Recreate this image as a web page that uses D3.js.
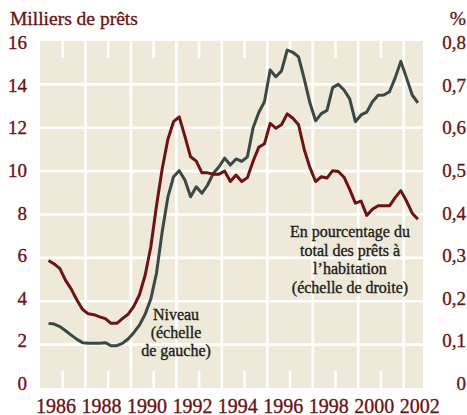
<!DOCTYPE html>
<html><head><meta charset="utf-8">
<script src="https://cdn.jsdelivr.net/npm/d3@7"></script>
<style>
body{margin:0;background:#fff}
svg{display:block}
</style>
</head><body>
<svg id="c" width="467" height="415"></svg>
<script>
// Quarterly periods: 1986 T2 .. 2002 T3 (index-based dates)
const firstYear = 1986, firstQuarter = 2, nPeriods = 66;
const periods = d3.range(nPeriods).map(i => {
  const q = firstQuarter - 1 + i;
  return {year: firstYear + Math.floor(q / 4), quarter: (q % 4) + 1};
});

// Niveau (milliers de prêts, échelle de gauche)
const niveau = [2.98,2.95,2.83,2.64,2.44,2.24,2.09,2.06,2.06,2.06,
  2.09,1.95,1.95,2.06,2.26,2.55,2.9,3.4,4.1,5.3,
  7.2,8.8,9.74,10.02,9.59,8.82,9.28,8.98,9.36,9.9,
  10.2,10.6,10.28,10.56,10.45,10.66,12.0,12.7,13.2,14.66,
  14.35,14.62,15.58,15.48,15.27,14.25,13.15,12.32,12.65,12.8,
  13.85,14.0,13.74,13.33,12.28,12.59,12.72,13.2,13.5,13.51,
  13.66,14.3,15.06,14.3,13.51,13.15];

// En pourcentage du total des prêts à l'habitation (échelle de droite)
const pourcentage = [0.294,0.286,0.275,0.248,0.228,0.203,0.181,0.171,0.169,0.164,
  0.160,0.149,0.149,0.160,0.170,0.188,0.215,0.26,0.325,0.42,
  0.505,0.573,0.614,0.625,0.580,0.533,0.523,0.496,0.496,0.493,
  0.493,0.500,0.476,0.491,0.476,0.485,0.523,0.555,0.563,0.610,
  0.599,0.607,0.632,0.622,0.607,0.550,0.508,0.476,0.487,0.484,
  0.501,0.499,0.486,0.458,0.426,0.431,0.398,0.412,0.420,0.420,
  0.420,0.439,0.455,0.431,0.403,0.389];

const leftTicks = [0,2,4,6,8,10,12,14,16];
const rightTicks = [0,0.1,0.2,0.3,0.4,0.5,0.6,0.7,0.8];
const yearLabels = [1986,1988,1990,1992,1994,1996,1998,2000,2002];
const gridYears = [1988,1990,1992,1994,1996,1998,2000,2002];
const tickYears = [1987,1989,1991,1993,1995,1997,1999,2001];
const gridValues = [2,4,6,8,10,12,14];

const FONT = '"Liberation Serif", "Times New Roman", serif';
const red = "#6e1214", gray = "#3a4846", labelRed = "#6a1416", ink = "#1c1c1c";
const svg = d3.select("#c");

const x = d3.scaleLinear().domain([1986, 2002.85]).range([40, 423]);
const yL = d3.scaleLinear().domain([0, 16]).range([388, 41]);
const yR = d3.scaleLinear().domain([0, 0.8]).range([388, 41]);
const yLab = d3.scaleLinear().domain([0, 16]).range([383.5, 43]);
const tOf = p => p.year + (p.quarter - 1) / 4 + 0.125;

svg.append("rect").attr("x", x(1986)).attr("y", yL(16))
  .attr("width", x.range()[1] - x(1986)).attr("height", yL(0) - yL(16))
  .attr("fill", "#eee9d8");

const g = svg.append("g").attr("stroke", "#fff").attr("stroke-width", 2.6);
g.selectAll(".h").data(gridValues).join("line")
  .attr("x1", x(1986)).attr("x2", x.range()[1])
  .attr("y1", d => yL(d)).attr("y2", d => yL(d));
g.selectAll(".v").data(gridYears).join("line")
  .attr("x1", d => x(d)).attr("x2", d => x(d))
  .attr("y1", yL(16)).attr("y2", yL(0));
g.selectAll(".tt").data(tickYears).join("line")
  .attr("x1", d => x(d)).attr("x2", d => x(d))
  .attr("y1", yL(16)).attr("y2", yL(16) + 17);
g.selectAll(".tb").data(tickYears).join("line")
  .attr("x1", d => x(d)).attr("x2", d => x(d))
  .attr("y1", yL(0) - 17).attr("y2", yL(0));

const lineL = d3.line().x((d, i) => x(tOf(periods[i]))).y(d => yL(d));
const lineR = d3.line().x((d, i) => x(tOf(periods[i]))).y(d => yR(d));
svg.append("path").attr("d", lineL(niveau)).attr("fill", "none")
  .attr("stroke", gray).attr("stroke-width", 3).attr("stroke-linejoin", "round");
svg.append("path").attr("d", lineR(pourcentage)).attr("fill", "none")
  .attr("stroke", red).attr("stroke-width", 3).attr("stroke-linejoin", "round");

function txt(sel, color, size) {
  return sel.style("font-family", FONT).style("font-size", size + "px")
    .attr("fill", color).attr("stroke", color).attr("stroke-width", 0.35);
}

// Axis labels
txt(svg.selectAll(".ll").data(leftTicks).join("text"), labelRed, 19)
  .attr("x", 27).attr("y", d => yLab(d) + 6.3)
  .attr("text-anchor", "end").text(d => d);
txt(svg.selectAll(".rl").data(rightTicks).join("text"), labelRed, 19)
  .attr("x", 466).attr("y", d => yLab(d * 20) + 6.3)
  .attr("text-anchor", "end")
  .text(d => d === 0 ? "0" : String(d).replace(".", ","));
txt(svg.selectAll(".xl").data(yearLabels).join("text"), labelRed, 20)
  .attr("x", d => x(d) + 16).attr("y", 412.5)
  .attr("text-anchor", "middle").text(d => d);

txt(svg.append("text"), labelRed, 19.5).attr("x", 10).attr("y", 25)
  .text("Milliers de prêts");
txt(svg.append("text"), labelRed, 19.5).attr("x", 466).attr("y", 25)
  .attr("text-anchor", "end").text("%");

// Annotations
const ann1 = ["Niveau", "(échelle", "de gauche)"];
txt(svg.selectAll(".a1").data(ann1).join("text"), ink, 16)
  .attr("x", 176).attr("y", (d, i) => 320 + i * 18)
  .attr("text-anchor", "middle").text(d => d);
const ann2 = ["En pourcentage du", "total des prêts à", "l’habitation", "(échelle de droite)"];
txt(svg.selectAll(".a2").data(ann2).join("text"), ink, 16)
  .attr("x", 350).attr("y", (d, i) => 237 + i * 18.6)
  .attr("text-anchor", "middle").text(d => d);
</script>
</body></html>
